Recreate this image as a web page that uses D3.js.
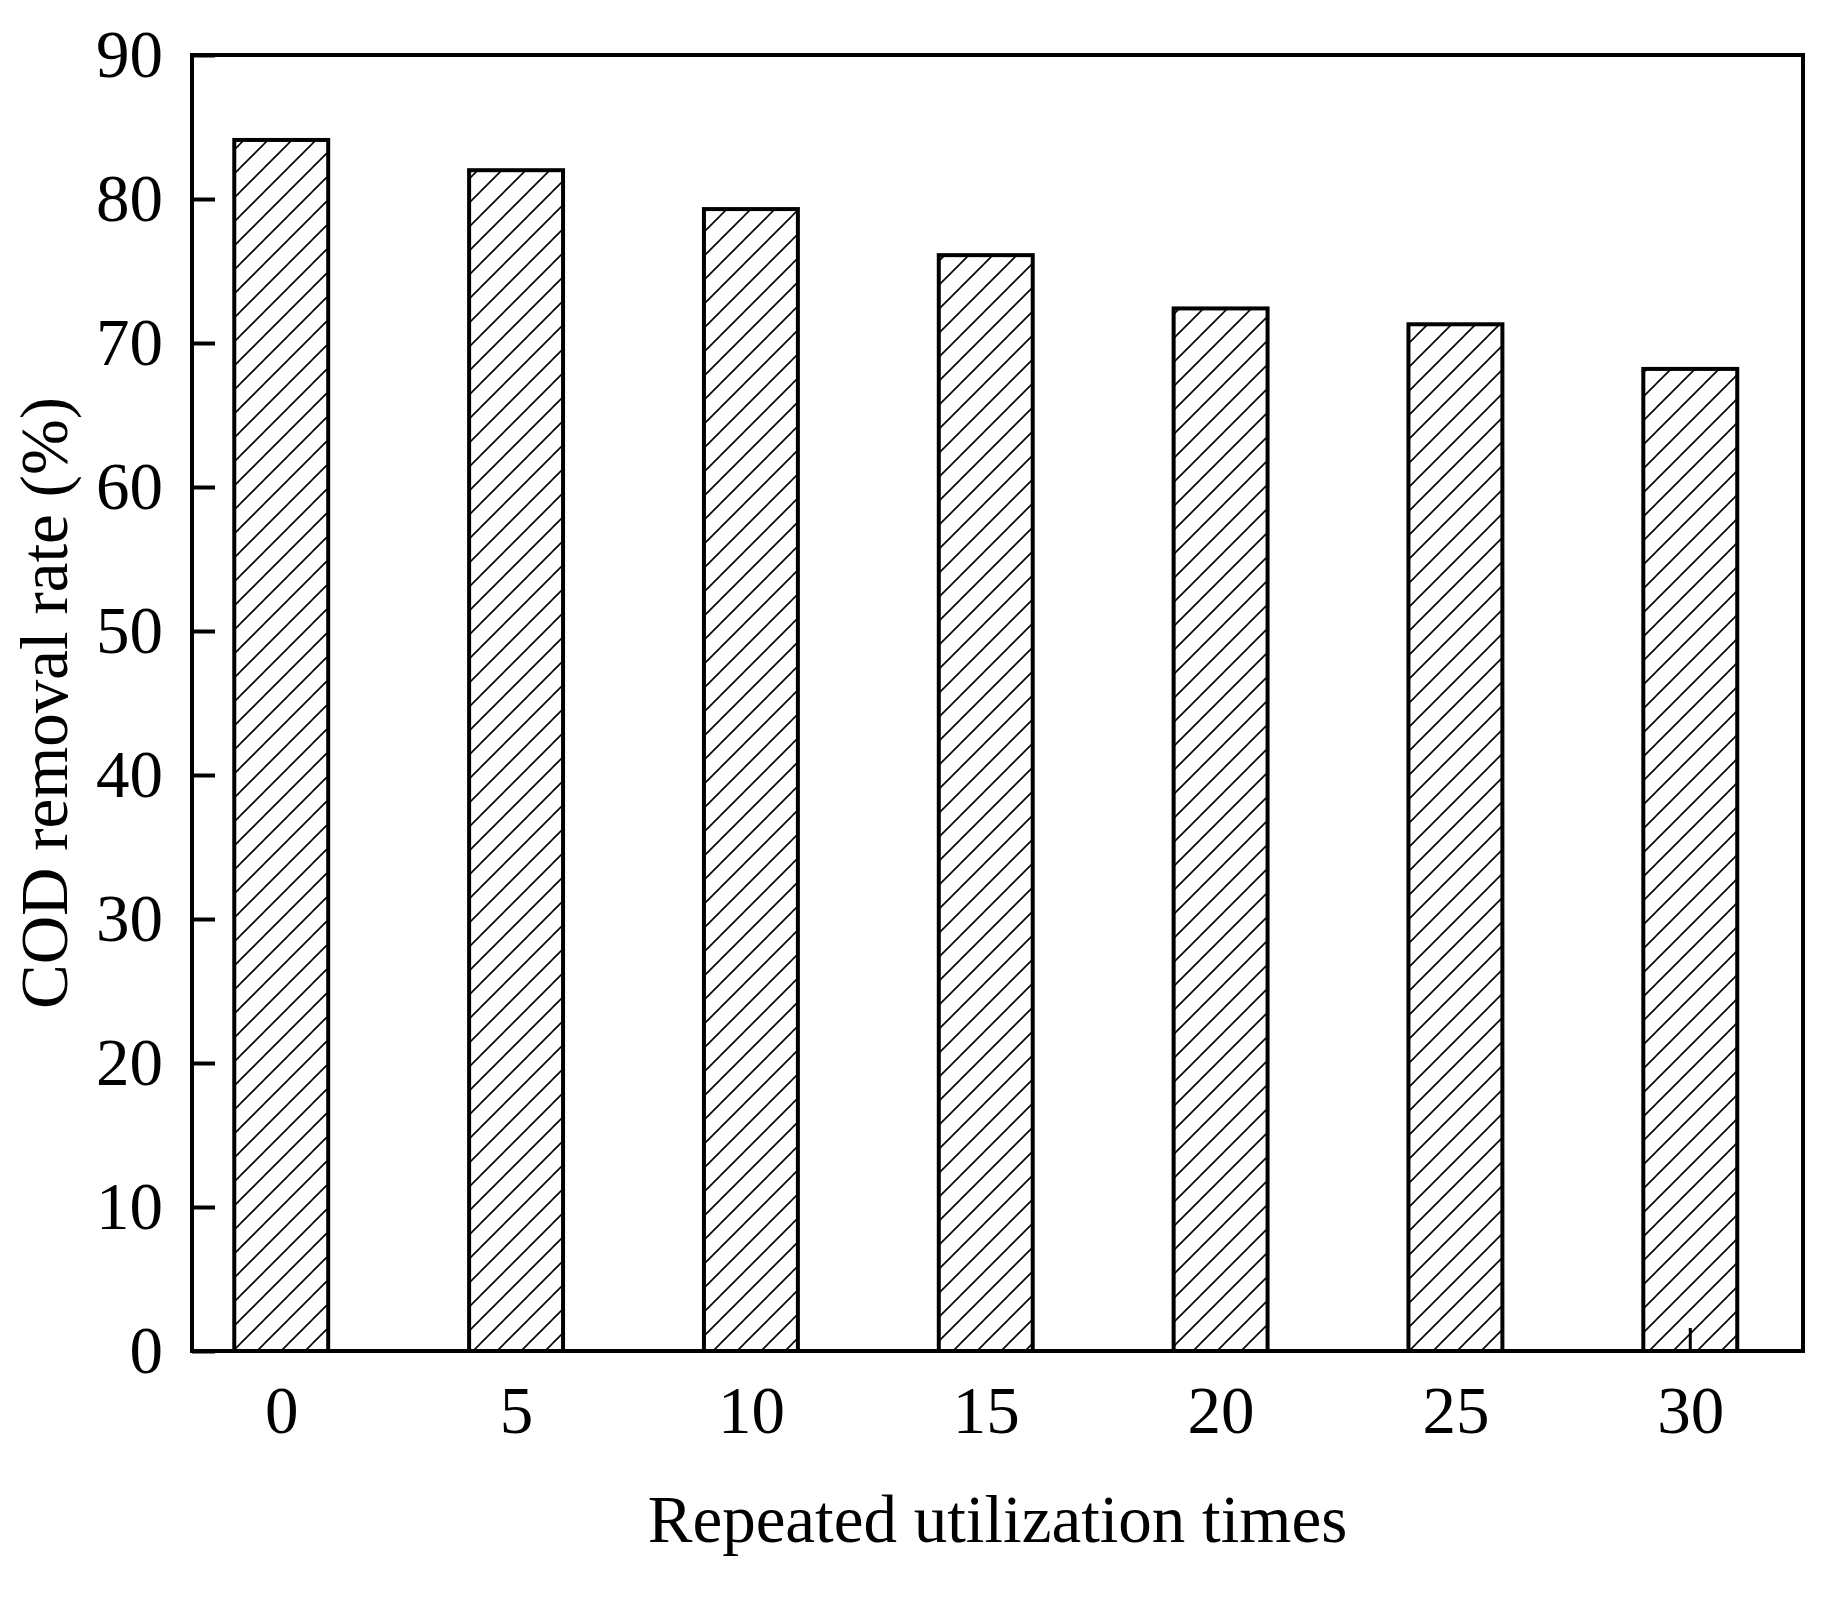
<!DOCTYPE html>
<html>
<head>
<meta charset="utf-8">
<script src="https://cdn.jsdelivr.net/npm/d3@7"></script>
<style>
  html, body { margin: 0; padding: 0; background: #fff; }
  svg { display: block; }
  text { font-family: "Liberation Serif", "Times New Roman", serif; fill: #000; }
</style>
</head>
<body>
<div id="chart"></div>
<script>
// data
let times = [0, 5, 10, 15, 20, 25, 30];
let removal = [84.1, 82.0, 79.3, 76.1, 72.4, 71.3, 68.2];
let yTicks = [0, 10, 20, 30, 40, 50, 60, 70, 80, 90];

let width = 1836, height = 1617;
let plotL = 192, plotR = 1803, plotT = 55, plotB = 1351;
let fontSize = 67;

let svg = d3.select('#chart').append('svg')
    .attr('width', width)
    .attr('height', height);

svg.append('rect').attr('width', width).attr('height', height).attr('fill', '#fff');

// hatch pattern for the bars
let defs = svg.append('defs');
let pat = defs.append('pattern')
    .attr('id', 'hatch')
    .attr('patternUnits', 'userSpaceOnUse')
    .attr('width', 24).attr('height', 24);
pat.append('rect').attr('width', 24).attr('height', 24).attr('fill', '#fff');
pat.append('path')
    .attr('d', 'M-6,6 L6,-6 M0,24 L24,0 M18,30 L30,18')
    .attr('stroke', '#000')
    .attr('stroke-width', 1.6);

let x = d3.scaleLinear().domain([-1.9, 32.4]).range([plotL, plotR]);
let y = d3.scaleLinear().domain([0, 90]).range([plotB, plotT]);
let barW = x(2) - x(0);

// y axis, ticks pointing in
let yAxis = svg.append('g')
    .attr('transform', `translate(${plotL},0)`)
    .call(d3.axisLeft(y).tickValues(yTicks).tickSizeInner(-23).tickSizeOuter(0).tickPadding(29));

// x axis, ticks pointing in (hidden behind bars)
let xAxis = svg.append('g')
    .attr('transform', `translate(0,${plotB})`)
    .call(d3.axisBottom(x).tickValues(times).tickFormat(d3.format('d'))
        .tickSizeInner(-23).tickSizeOuter(0).tickPadding(34));

[yAxis, xAxis].forEach(a => {
    a.select('.domain').remove();
    a.selectAll('.tick line').attr('stroke', '#000').attr('stroke-width', 4);
    a.selectAll('.tick text')
        .style('font-family', '"Liberation Serif", "Times New Roman", serif')
        .style('font-size', fontSize + 'px')
        .attr('fill', '#000');
});

// bars
svg.append('g').selectAll('rect')
    .data(times)
    .enter().append('rect')
    .attr('x', (d) => x(d) - barW / 2)
    .attr('y', (d, i) => y(removal[i]))
    .attr('width', barW)
    .attr('height', (d, i) => y(0) - y(removal[i]))
    .attr('fill', 'url(#hatch)')
    .attr('stroke', '#000')
    .attr('stroke-width', 4);

// the last x tick shows through in the original
let last = times[times.length - 1];
svg.append('line')
    .attr('x1', x(last)).attr('x2', x(last))
    .attr('y1', plotB).attr('y2', plotB - 23)
    .attr('stroke', '#000').attr('stroke-width', 3);

// frame
svg.append('rect')
    .attr('x', plotL).attr('y', plotT)
    .attr('width', plotR - plotL).attr('height', plotB - plotT)
    .attr('fill', 'none')
    .attr('stroke', '#000')
    .attr('stroke-width', 4);

// axis titles
svg.append('text')
    .attr('x', (plotL + plotR) / 2)
    .attr('y', 1542)
    .attr('text-anchor', 'middle')
    .style('font-size', fontSize + 'px')
    .text('Repeated utilization times');

svg.append('text')
    .attr('transform', `translate(67,${(plotT + plotB) / 2}) rotate(-90)`)
    .attr('text-anchor', 'middle')
    .style('font-size', fontSize + 'px')
    .text('COD removal rate (%)');
</script>
</body>
</html>
